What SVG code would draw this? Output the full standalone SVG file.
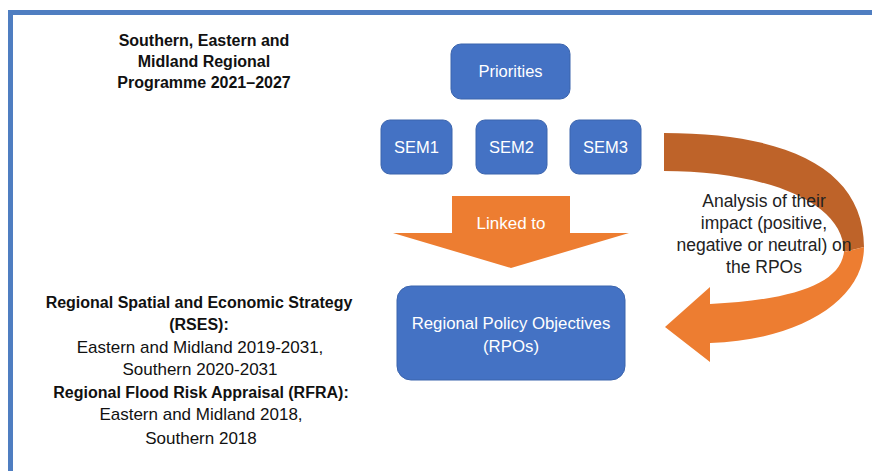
<svg xmlns="http://www.w3.org/2000/svg" width="872" height="471" viewBox="0 0 872 471">
<style>
.box{fill:#4472C4;stroke:#3B64AD;stroke-width:1}
.bt{font-family:"Liberation Sans",Arial,sans-serif;font-size:16.5px;fill:#fff;text-anchor:middle}
.t{font-family:"Liberation Sans",Arial,sans-serif;font-size:17px;fill:#111;text-anchor:middle}
.b{font-weight:bold;font-size:16px}
.a{font-size:17.5px;fill:#222}
</style>
<rect width="872" height="471" fill="#fff"/>
<path d="M10.5,471 V12.5 H872" fill="none" stroke="#4F7EC1" stroke-width="5"/>
<g id="title">
<text class="t b" x="204" y="46">Southern, Eastern and</text>
<text class="t b" x="204" y="67">Midland Regional</text>
<text class="t b" x="204" y="88">Programme 2021–2027</text>
</g>
<g id="priorities"><rect class="box" x="451" y="44" width="119" height="55" rx="10"/><text class="bt" x="510.5" y="77">Priorities</text></g>
<g id="sem1"><rect class="box" x="381" y="120" width="71" height="54" rx="9"/><text class="bt" x="416.5" y="153">SEM1</text></g>
<g id="sem2"><rect class="box" x="476" y="120" width="71" height="54" rx="9"/><text class="bt" x="511.5" y="153">SEM2</text></g>
<g id="sem3"><rect class="box" x="570" y="120" width="71" height="54" rx="9"/><text class="bt" x="605.5" y="153">SEM3</text></g>
<g id="rpos"><rect class="box" x="397" y="286" width="228" height="94" rx="14"/><text class="bt" x="511" y="329" style="font-size:16.8px">Regional Policy Objectives</text><text class="bt" x="511" y="352" style="font-size:16.8px">(RPOs)</text></g>
<g id="connectors">
<g id="linked-to"><path d="M452,196 H570 V233 H629 L511,268 L393,233 H452 Z" fill="#ED7D31"/><text class="bt" x="511" y="229" style="font-size:17px">Linked to</text></g>
<g id="curved-arrow">
<path d="M664,133 C790,133 864,170 864,247 L844,252 C844,200 760,171 664,171 Z" fill="#BE6329"/>
<path d="M864,247 C864,300 800,340 710,343 V362 L665,327 L710,287 V304 C790,300 840,285 844,252 Z" fill="#ED7D31"/>
</g>
<g id="analysis-label">
<text class="t a" x="764" y="207">Analysis of their</text>
<text class="t a" x="764" y="229">impact (positive,</text>
<text class="t a" x="764" y="251">negative or neutral) on</text>
<text class="t a" x="764" y="273">the RPOs</text>
</g>
</g>
<g id="sources">
<text class="t b" x="199" y="308">Regional Spatial and Economic Strategy</text>
<text class="t b" x="199" y="330">(RSES):</text>
<text class="t" x="200" y="353">Eastern and Midland 2019-2031,</text>
<text class="t" x="200" y="375">Southern 2020-2031</text>
<text class="t b" x="201" y="398">Regional Flood Risk Appraisal (RFRA):</text>
<text class="t" x="201" y="420">Eastern and Midland 2018,</text>
<text class="t" x="201" y="444">Southern 2018</text>
</g>
</svg>
